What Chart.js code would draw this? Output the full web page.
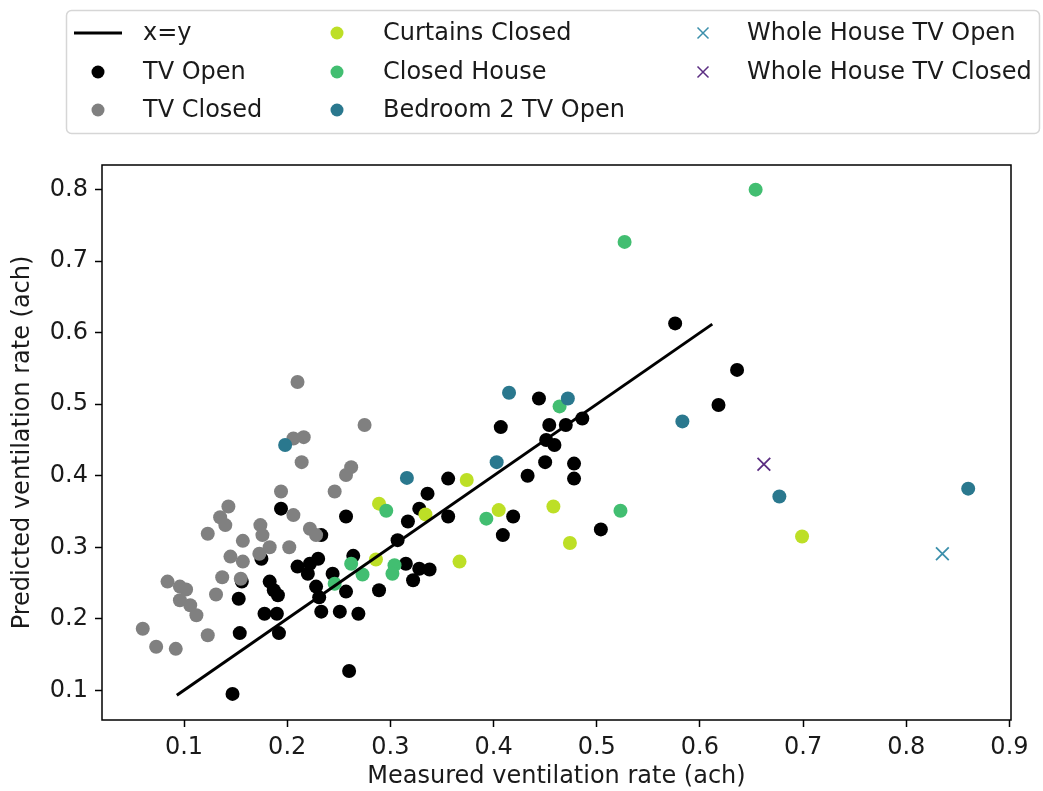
<!DOCTYPE html>
<html>
<head>
<meta charset="utf-8">
<script src="https://cdn.jsdelivr.net/npm/chart.js@4.4.1/dist/chart.umd.min.js"></script>
<style>
  html, body { margin: 0; padding: 0; background: #fff; }
</style>
</head>
<body>
<canvas id="ventChart" width="1043" height="791"></canvas>
<script>
// ══════════════════════════════
//  DATA  (ach)
// ══════════════════════════════
const lineXY = [0.093, 0.612];

const tvOpenX = [0.194, 0.257, 0.233, 0.175, 0.210, 0.222, 0.230, 0.220, 0.156, 0.153,
  0.183, 0.187, 0.191, 0.228, 0.231, 0.244, 0.257, 0.178, 0.190, 0.233,
  0.251, 0.154, 0.192, 0.147, 0.260, 0.264, 0.269, 0.289, 0.315, 0.322,
  0.328, 0.338, 0.307, 0.317, 0.328, 0.336, 0.356, 0.356, 0.407, 0.444,
  0.454, 0.470, 0.486, 0.451, 0.459, 0.450, 0.478, 0.478, 0.433, 0.419,
  0.409, 0.504, 0.576, 0.636, 0.618];
const tvOpenY = [0.354, 0.343, 0.317, 0.284, 0.273, 0.277, 0.284, 0.263, 0.252, 0.228,
  0.252, 0.240, 0.233, 0.245, 0.230, 0.263, 0.238, 0.207, 0.207, 0.210,
  0.210, 0.180, 0.180, 0.095, 0.127, 0.288, 0.207, 0.240, 0.277, 0.254,
  0.270, 0.269, 0.310, 0.336, 0.354, 0.375, 0.396, 0.343, 0.468, 0.508,
  0.471, 0.471, 0.480, 0.450, 0.443, 0.419, 0.417, 0.396, 0.400, 0.343,
  0.317, 0.325, 0.613, 0.548, 0.499];

const tvClosedX = [0.206, 0.216, 0.214, 0.194, 0.246, 0.262, 0.257, 0.210, 0.275, 0.143,
  0.135, 0.140, 0.123, 0.174, 0.176, 0.183, 0.157, 0.206, 0.222, 0.228,
  0.202, 0.145, 0.157, 0.173, 0.137, 0.155, 0.084, 0.096, 0.102, 0.131,
  0.096, 0.106, 0.112, 0.060, 0.123, 0.073, 0.092];
const tvClosedY = [0.452, 0.454, 0.419, 0.378, 0.378, 0.412, 0.401, 0.531, 0.471, 0.357,
  0.342, 0.331, 0.319, 0.331, 0.317, 0.300, 0.309, 0.345, 0.326, 0.317,
  0.300, 0.287, 0.280, 0.291, 0.258, 0.256, 0.252, 0.245, 0.241, 0.234,
  0.226, 0.219, 0.205, 0.186, 0.177, 0.161, 0.158];

const curtainsX = [0.289, 0.286, 0.334, 0.367, 0.374, 0.405, 0.458, 0.474, 0.699];
const curtainsY = [0.361, 0.283, 0.346, 0.280, 0.394, 0.352, 0.357, 0.306, 0.315];

const closedHouseX = [0.654, 0.527, 0.464, 0.523, 0.393, 0.296, 0.262, 0.273, 0.246, 0.304, 0.302];
const closedHouseY = [0.800, 0.727, 0.497, 0.351, 0.340, 0.351, 0.277, 0.262, 0.249, 0.275, 0.263];

const bedroom2X = [0.198, 0.316, 0.415, 0.472, 0.403, 0.583, 0.677, 0.860];
const bedroom2Y = [0.443, 0.397, 0.516, 0.508, 0.419, 0.476, 0.371, 0.382];

const wholeOpenX = [0.835];
const wholeOpenY = [0.291];
const wholeClosedX = [0.662];
const wholeClosedY = [0.416];

const xTicks = [0.1, 0.2, 0.3, 0.4, 0.5, 0.6, 0.7, 0.8, 0.9];
const yTicks = [0.1, 0.2, 0.3, 0.4, 0.5, 0.6, 0.7, 0.8];

const pts = (xs, ys) => xs.map((x, i) => ({ x: x, y: ys[i] }));

const FONT = '"DejaVu Sans", "Liberation Sans", sans-serif';
const FONT_SIZE = 24;
const TEXT = '#1a1a1a';


// ══════════════════════════════
//  PLUGINS
// ══════════════════════════════
// full box round the plot area
const frameBox = {
  id: 'frameBox',
  afterDatasetsDraw(chart) {
    const a = chart.chartArea;
    const ctx = chart.ctx;
    ctx.save();
    ctx.strokeStyle = '#000';
    ctx.lineWidth = 1.5;
    ctx.strokeRect(a.left, a.top, a.right - a.left, a.bottom - a.top);
    ctx.restore();
  }
};

// legend in three columns, filled top to bottom
const columnLegend = {
  id: 'columnLegend',
  afterDraw(chart) {
    const ctx = chart.ctx;
    const handleX = [98, 337, 703];
    const textX = [143, 383, 747];
    const rowY = [33, 72, 110];

    ctx.save();
    ctx.strokeStyle = '#d6d6d6';
    ctx.lineWidth = 1.5;
    ctx.beginPath();
    ctx.roundRect(66.5, 10.5, 973, 123, 5);
    ctx.stroke();

    ctx.font = FONT_SIZE + 'px ' + FONT;
    ctx.textBaseline = 'middle';
    ctx.textAlign = 'left';

    chart.data.datasets.forEach((ds, k) => {
      const col = Math.floor(k / 3);
      const cx = handleX[col];
      const cy = rowY[k % 3];
      if (ds.type === 'line') {
        ctx.strokeStyle = ds.borderColor;
        ctx.lineWidth = ds.borderWidth;
        ctx.beginPath();
        ctx.moveTo(cx - 24, cy);
        ctx.lineTo(cx + 24, cy);
        ctx.stroke();
      } else if (ds.pointStyle === 'crossRot') {
        ctx.strokeStyle = ds.borderColor;
        ctx.lineWidth = 1.5;
        ctx.beginPath();
        ctx.moveTo(cx - 5.5, cy - 5.5);
        ctx.lineTo(cx + 5.5, cy + 5.5);
        ctx.moveTo(cx - 5.5, cy + 5.5);
        ctx.lineTo(cx + 5.5, cy - 5.5);
        ctx.stroke();
      } else {
        ctx.fillStyle = ds.backgroundColor;
        ctx.beginPath();
        ctx.arc(cx, cy, 6.5, 0, Math.PI * 2);
        ctx.fill();
      }
      ctx.fillStyle = TEXT;
      ctx.fillText(ds.label, textX[col], cy + 1);
    });
    ctx.restore();
  }
};


// ══════════════════════════════
//  SCATTER CHART
// ══════════════════════════════
const dot = (label, color, xs, ys, order) => ({
  type: 'scatter',
  label: label,
  data: pts(xs, ys),
  backgroundColor: color,
  borderColor: color,
  borderWidth: 0,
  pointStyle: 'circle',
  pointRadius: 7,
  pointHoverRadius: 7,
  order: order,
});

const cross = (label, color, xs, ys, order) => ({
  type: 'scatter',
  label: label,
  data: pts(xs, ys),
  backgroundColor: color,
  borderColor: color,
  borderWidth: 1.8,
  pointStyle: 'crossRot',
  pointRadius: 9,
  pointHoverRadius: 9,
  order: order,
});

new Chart(document.getElementById('ventChart'), {
  plugins: [frameBox, columnLegend],
  data: {
    datasets: [
      {
        type: 'line',
        label: 'x=y',
        data: pts(lineXY, lineXY),
        borderColor: '#000',
        borderWidth: 3,
        pointRadius: 0,
        fill: false,
        order: 0,
      },
      dot('TV Open', '#000000', tvOpenX, tvOpenY, 7),
      dot('TV Closed', '#808080', tvClosedX, tvClosedY, 6),
      dot('Curtains Closed', '#bddf26', curtainsX, curtainsY, 5),
      dot('Closed House', '#42be71', closedHouseX, closedHouseY, 4),
      dot('Bedroom 2 TV Open', '#2a788e', bedroom2X, bedroom2Y, 3),
      cross('Whole House TV Open', '#3b8fab', wholeOpenX, wholeOpenY, 2),
      cross('Whole House TV Closed', '#5b2d82', wholeClosedX, wholeClosedY, 1),
    ],
  },
  options: {
    responsive: false,
    devicePixelRatio: 1,
    animation: false,
    layout: { padding: { left: 0, top: 165, right: 32, bottom: 0 } },
    plugins: {
      legend: { display: false },
      tooltip: { enabled: false },
    },
    scales: {
      x: {
        type: 'linear',
        min: 0.0205,
        max: 0.9015,
        afterFit: (scale) => { scale.height = 71; },
        afterBuildTicks: (axis) => { axis.ticks = xTicks.map(v => ({ value: v })); },
        grid: {
          drawOnChartArea: false,
          drawTicks: true,
          tickLength: 7,
          tickWidth: 1.5,
          tickColor: '#000',
        },
        border: { display: false },
        ticks: {
          color: TEXT,
          padding: 6,
          maxRotation: 0,
          font: { family: FONT, size: FONT_SIZE },
          callback: (v) => v.toFixed(1),
        },
        title: {
          display: true,
          text: 'Measured ventilation rate (ach)',
          color: TEXT,
          padding: { top: 0, bottom: 0 },
          font: { family: FONT, size: FONT_SIZE },
        },
      },
      y: {
        type: 'linear',
        min: 0.0585,
        max: 0.8345,
        afterFit: (scale) => { scale.width = 102; },
        afterBuildTicks: (axis) => { axis.ticks = yTicks.map(v => ({ value: v })); },
        grid: {
          drawOnChartArea: false,
          drawTicks: true,
          tickLength: 7,
          tickWidth: 1.5,
          tickColor: '#000',
        },
        border: { display: false },
        ticks: {
          color: TEXT,
          padding: 7,
          font: { family: FONT, size: FONT_SIZE },
          callback: (v) => v.toFixed(1),
        },
        title: {
          display: true,
          text: 'Predicted ventilation rate (ach)',
          color: TEXT,
          padding: { top: 8, bottom: 0 },
          font: { family: FONT, size: FONT_SIZE },
        },
      },
    },
  },
});
</script>
</body>
</html>
